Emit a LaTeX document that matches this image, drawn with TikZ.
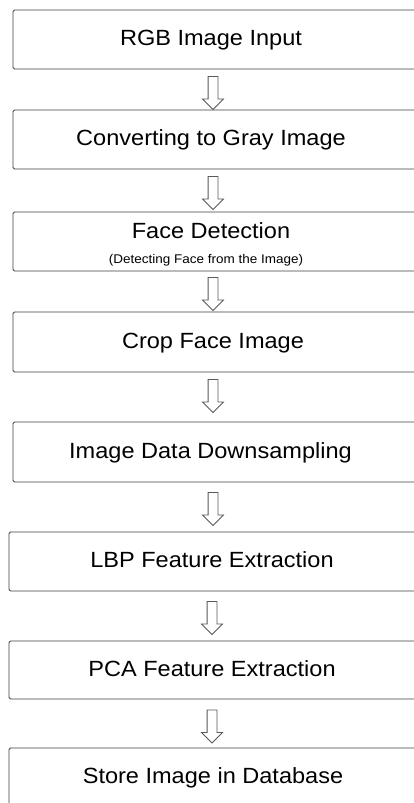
\documentclass[tikz,border=0pt]{standalone}
\usepackage{fontspec}
\setmainfont{Liberation Sans}
\usetikzlibrary{shapes.arrows,calc}
\begin{document}
\begin{tikzpicture}[x=1pt,y=-1pt,
 box/.style={draw=black!75,line width=0.9pt,rounded corners=1.5pt,minimum height=59pt,inner sep=0pt},
 topbox/.style={box,minimum width=411pt},
 lowbox/.style={box,minimum width=415pt},
 lbl/.style={anchor=base,inner sep=0pt,font=\fontsize{22}{26}\selectfont,xscale=1.07},
 sub/.style={anchor=base,inner sep=0pt,font=\fontsize{12.6}{15}\selectfont,xscale=1.07},
 flow/.style={draw=black!65,fill=white,line width=0.8pt,single arrow,single arrow head extend=5.5pt,single arrow tip angle=90,minimum height=33pt,inner xsep=0pt,inner ysep=4.5pt,rotate=-90}]
\useasboundingbox (0,0) rectangle (414,803);
\fill[white] (0,0) rectangle (414,803);
\clip (0,0) rectangle (414,803);
% boxes
\node[topbox] (b1) at (218.5,39.5) {};
\node[topbox] (b2) at (218.5,139.5) {};
\node[topbox] (b3) at (218.5,241.5) {};
\node[topbox,minimum height=60pt] (b4) at (218.5,342) {};
\node[topbox,minimum height=60pt] (b5) at (218.5,452) {};
\node[lowbox] (b6) at (216.5,561.5) {};
\node[lowbox,minimum height=58pt] (b7) at (216.5,670) {};
\node[lowbox] (b8) at (216.5,777.5) {};
% labels
\node[lbl] (t1) at (211,45.5) {RGB Image Input};
\node[lbl] (t2) at (211,145.5) {Converting to Gray Image};
\node[lbl] (t3) at (211,238.3) {Face Detection};
\node[sub] (t3s) at (206,263) {(Detecting Face from the Image)};
\node[lbl] (t4) at (213,348) {Crop Face Image};
\node[lbl] (t5) at (210.5,458) {Image Data Downsampling};
\node[lbl] (t6) at (212,567.5) {LBP Feature Extraction};
\node[lbl] (t7) at (212,676) {PCA Feature Extraction};
\node[lbl] (t8) at (213,783.5) {Store Image in Database};
% arrows
\node[flow] (a1) at (213,90.5) {};
\node[flow] (a2) at (213,190.5) {};
\node[flow] (a3) at (213,291.5) {};
\node[flow] (a4) at (213,393.5) {};
\node[flow] (a5) at (213,506.5) {};
\node[flow] (a6) at (212,615.5) {};
\node[flow] (a7) at (212,724) {};
\end{tikzpicture}
\end{document}
